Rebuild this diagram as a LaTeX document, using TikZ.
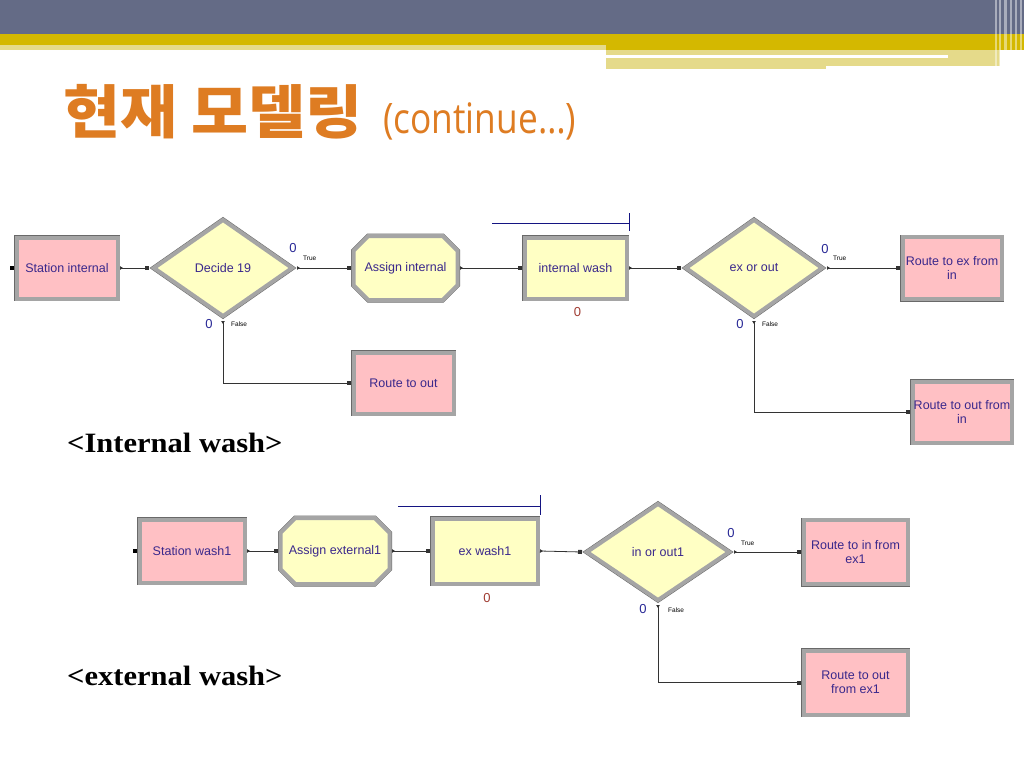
\documentclass[tikz,border=0pt]{standalone}
\usepackage{fontspec}
\setmainfont{Liberation Sans}
\newfontfamily\krfont{Noto Sans CJK KR}
\newfontfamily\latinfont{Open Sans}
\newfontfamily\labelfont{Liberation Serif}
\usetikzlibrary{positioning}
\usetikzlibrary{shapes.geometric}
\usetikzlibrary{shapes.misc}
\usetikzlibrary{arrows.meta}

\definecolor{bannerblue}{RGB}{100,107,134}
\definecolor{bannergold}{RGB}{212,184,0}
\definecolor{bannerpale}{RGB}{229,218,138}
\definecolor{titleorange}{RGB}{222,124,34}
\definecolor{modpink}{RGB}{255,192,196}
\definecolor{modyellow}{RGB}{255,255,196}
\definecolor{bevel}{RGB}{165,165,165}
\definecolor{beveldark}{RGB}{105,105,105}
\definecolor{modtext}{RGB}{58,40,140}
\definecolor{countblue}{RGB}{40,40,150}
\definecolor{countred}{RGB}{160,60,50}
\definecolor{queueblue}{RGB}{20,20,130}

\begin{document}
\begin{tikzpicture}[x=1pt, y=-1pt,
    module/.style={preaction={draw=beveldark, line width=5pt}, draw=bevel,
        line width=4pt, outer sep=2.5pt, inner sep=0pt, text=modtext,
        font=\fontsize{12.5}{14.5}\selectfont, align=center},
    station/.style={module, rectangle, fill=modpink},
    process/.style={module, rectangle, fill=modyellow},
    assign/.style={module, chamfered rectangle, chamfered rectangle xsep=9pt,
        chamfered rectangle ysep=9pt, fill=modyellow},
    decide/.style={module, diamond, fill=modyellow, outer sep=3.5pt},
    link/.style={draw=black!80, line width=0.8pt,
        {Triangle[length=3pt,width=3.5pt,reversed]}-{Square[length=4pt,width=4pt]}},
    port/.style={fill=black, minimum size=4pt, inner sep=0pt},
    cnt/.style={text=countblue, font=\fontsize{13}{13}\selectfont, inner sep=0pt},
    branch/.style={font=\fontsize{6.5}{6.5}\selectfont, inner sep=0pt, anchor=west},
    qline/.style={draw=queueblue, line width=0.8pt},
    caption/.style={anchor=west, inner sep=0pt, font=\labelfont\bfseries\fontsize{28}{30}\selectfont}]

    \useasboundingbox[fill=white] (0,0) rectangle (1024,768);

    % Banner
    \fill[bannerblue] (0,0) rectangle (1024,34);
    \fill[bannergold] (0,34) rectangle (1024,45);
    \fill[bannerpale] (0,45) rectangle (606,50);
    \fill[bannergold] (606,45) rectangle (1024,50);
    \fill[bannerpale] (606,50) rectangle (1000,66);
    \fill[bannerpale] (606,66) rectangle (826,69);
    \fill[white] (606,55) rectangle (948,58);
    \foreach \x/\w in {995/2,999/1.5,1004/3,1010/1.5,1015/2,1020/1.5}
        \fill[white, opacity=0.45] (\x,0) rectangle ++(\w,69);

    % Title
    \node[anchor=base west, inner sep=0pt, text=titleorange] (ttl) at (63,133)
        {\scalebox{1.07}[1]{\krfont\bfseries\fontsize{58}{60}\selectfont 현재 모델링}};
    \node[anchor=base west, inner sep=0pt, text=titleorange] (ttc) at ([xshift=20pt]ttl.base east)
        {\scalebox{0.84}[1]{\latinfont\fontsize{42}{44}\selectfont (continue…)}};

    % Internal wash
    \node[station, minimum width=101pt, minimum height=61pt] (si) at (67,268) {Station internal};
    \node[decide, minimum width=141pt, minimum height=99pt] (d19) at (223,268) {Decide 19};
    \node[assign, minimum width=104pt, minimum height=64pt] (ai) at (405.5,268) {Assign internal};
    \node[process, minimum width=102pt, minimum height=61pt] (iw) at (575.5,268) {internal wash};
    \node[decide, minimum width=139pt, minimum height=99pt] (exo) at (754,268) {ex or out};
    \node[station, minimum width=99pt, minimum height=62pt] (rex) at (952,268) {Route to ex from\\in};
    \node[station, minimum width=100pt, minimum height=61pt] (rto) at (403.5,383) {Route to out};
    \node[station, minimum width=99pt, minimum height=61pt] (rtoi) at (962,412) {Route to out from\\in};
    \node[port, left=0pt of si] (sip) {};

    \draw[link] (si.east) -- (d19.west);
    \draw[link] (d19.east) -- (ai.west);
    \draw[link] (ai.east) -- (iw.west);
    \draw[link] (iw.east) -- (exo.west);
    \draw[link] (exo.east) -- (rex.west);
    \draw[link] (d19.south) |- (rto.west);
    \draw[link] (exo.south) |- (rtoi.west);

    \node[cnt] at ([shift={(-4,-20)}]d19.east) {0};
    \node[branch] at ([shift={(6,-10)}]d19.east) {True};
    \node[cnt] at ([shift={(-14,3)}]d19.south) {0};
    \node[branch] at ([shift={(8,3)}]d19.south) {False};
    \node[cnt] at ([shift={(-2,-19)}]exo.east) {0};
    \node[branch] at ([shift={(6,-10)}]exo.east) {True};
    \node[cnt] at ([shift={(-14,3)}]exo.south) {0};
    \node[branch] at ([shift={(8,3)}]exo.south) {False};
    \node[cnt, text=countred] at ([shift={(2,11)}]iw.south) {0};

    \draw[qline] ([shift={(-137,-12)}]iw.north east) -- ([shift={(0,-12)}]iw.north east);
    \draw[qline] ([shift={(0,-22)}]iw.north east) -- ([shift={(0,-4)}]iw.north east);

    \node[caption] (lbi) at (67,443) {\scalebox{1.09}[1]{<Internal wash>}};

    % External wash
    \node[station, minimum width=105pt, minimum height=63pt] (sw) at (192,551) {Station wash1};
    \node[assign, minimum width=109pt, minimum height=66pt] (ae) at (335,551) {Assign external1};
    \node[process, minimum width=105pt, minimum height=65pt] (ew) at (485,551) {ex wash1};
    \node[decide, minimum width=145pt, minimum height=99pt] (ioo) at (658,552) {in or out1};
    \node[station, minimum width=104pt, minimum height=64pt] (rie) at (855.5,552) {Route to in from\\ex1};
    \node[station, minimum width=104pt, minimum height=64pt] (roe) at (855.5,682.5) {Route to out\\from ex1};
    \node[port, left=0pt of sw] (swp) {};

    \draw[link] (sw.east) -- (ae.west);
    \draw[link] (ae.east) -- (ew.west);
    \draw[link] (ew.east) -- (ioo.west);
    \draw[link] (ioo.east) -- (rie.west);
    \draw[link] (ioo.south) |- (roe.west);

    \node[cnt] at ([shift={(-3,-19)}]ioo.east) {0};
    \node[branch] at ([shift={(7,-9)}]ioo.east) {True};
    \node[cnt] at ([shift={(-15,4)}]ioo.south) {0};
    \node[branch] at ([shift={(10,5)}]ioo.south) {False};
    \node[cnt, text=countred] at ([shift={(2,12)}]ew.south) {0};

    \draw[qline] ([shift={(-142,-10)}]ew.north east) -- ([shift={(0,-10)}]ew.north east);
    \draw[qline] ([shift={(0,-21)}]ew.north east) -- ([shift={(0,-1)}]ew.north east);

    \node[caption] (lbe) at (67,676) {\scalebox{1.09}[1]{<external wash>}};
\end{tikzpicture}
\end{document}
